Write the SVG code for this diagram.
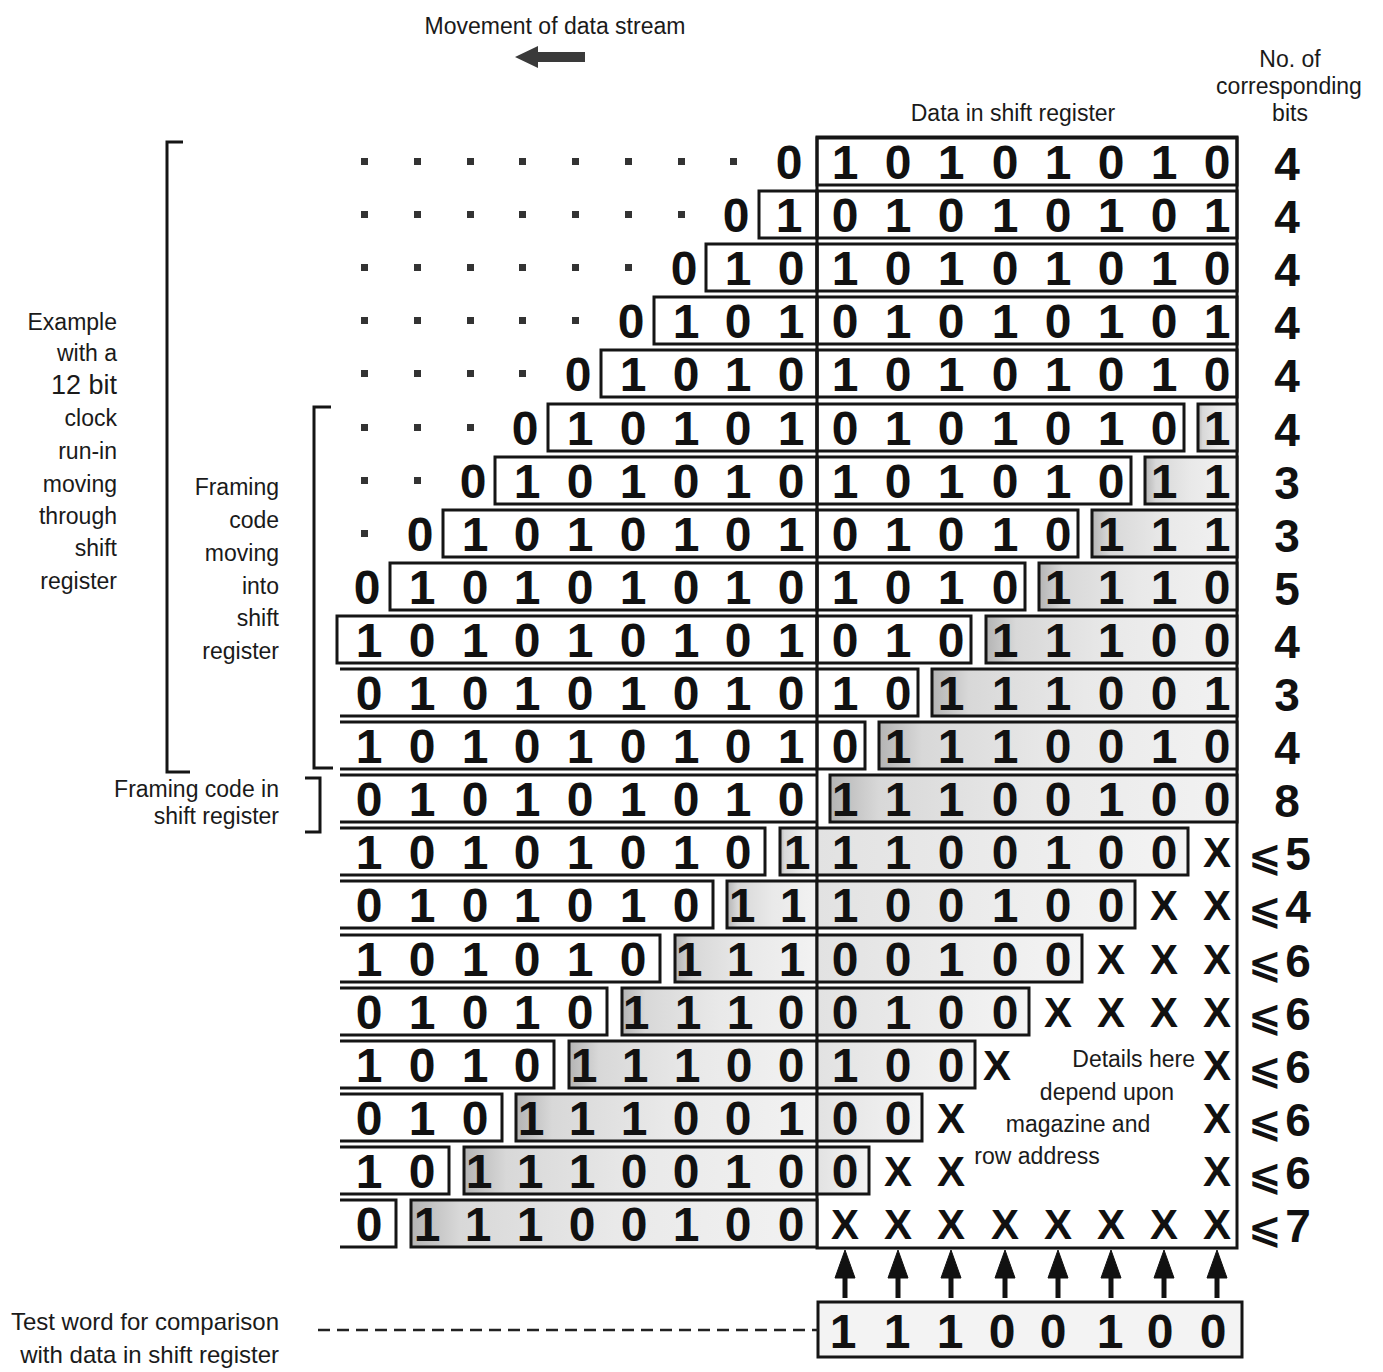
<svg xmlns="http://www.w3.org/2000/svg" width="1383" height="1372" viewBox="0 0 1383 1372">
<defs>
<linearGradient id="sh" x1="0" y1="0" x2="1" y2="0">
<stop offset="0" stop-color="#b4b4b4"/><stop offset="0.12" stop-color="#d8d8d8"/><stop offset="0.5" stop-color="#e9e9e9"/><stop offset="1" stop-color="#f2f2f2"/>
</linearGradient>
<linearGradient id="sh2" x1="0" y1="0" x2="1" y2="0">
<stop offset="0" stop-color="#e2e2e2"/><stop offset="1" stop-color="#f4f4f4"/>
</linearGradient>
<style>
.d{font-family:"Liberation Sans",Arial,sans-serif;font-weight:bold;font-size:48px;text-anchor:middle;fill:#111}
.x{font-family:"Liberation Sans",Arial,sans-serif;font-weight:bold;font-size:42px;text-anchor:middle;fill:#111}
.n{font-family:"Liberation Sans",Arial,sans-serif;font-weight:bold;font-size:46px;text-anchor:middle;fill:#111}
.le{font-family:"Liberation Sans",Arial,sans-serif;font-size:23px;fill:#1a1a1a;text-anchor:end}
.lc{font-family:"Liberation Sans",Arial,sans-serif;font-size:23px;fill:#1a1a1a;text-anchor:middle}
.b{fill:none;stroke:#151515;stroke-width:3}
.s{fill:url(#sh);stroke:#151515;stroke-width:3}
.s2{fill:url(#sh2);stroke:#151515;stroke-width:3}
.dot{fill:#333}
.le2{font-family:"DejaVu Sans",sans-serif;font-weight:bold;font-size:40px}
</style>
</defs>
<rect width="1383" height="1372" fill="#fff"/>

<g id="header">
<text class="lc" x="555" y="34">Movement of data stream</text>
<polygon points="515,57 538,46 538,52 585,52 585,62 538,62 538,68" fill="#3a3a3a"/>
<text class="lc" x="1013" y="121">Data in shift register</text>
<text class="lc" x="1290" y="67">No. of</text>
<text class="lc" x="1289" y="94">corresponding</text>
<text class="lc" x="1290" y="121">bits</text>
</g>

<g id="labels">
<text class="le" x="117" y="330">Example</text>
<text class="le" x="117" y="361">with a</text>
<text class="le" x="117" y="394" style="font-size:27px">12 bit</text>
<text class="le" x="117" y="426">clock</text>
<text class="le" x="117" y="459">run-in</text>
<text class="le" x="117" y="492">moving</text>
<text class="le" x="117" y="524">through</text>
<text class="le" x="117" y="556">shift</text>
<text class="le" x="117" y="589">register</text>
<text class="le" x="279" y="495">Framing</text>
<text class="le" x="279" y="528">code</text>
<text class="le" x="279" y="561">moving</text>
<text class="le" x="279" y="594">into</text>
<text class="le" x="279" y="626">shift</text>
<text class="le" x="279" y="659">register</text>
<text class="le" x="279" y="797">Framing code in</text>
<text class="le" x="279" y="824">shift register</text>
<text class="le" x="279" y="1330" style="font-size:24px">Test word for comparison</text>
<text class="le" x="279" y="1363" style="font-size:24px">with data in shift register</text>
<path class="b" d="M183 142 H167 V772 H190"/>
<path class="b" d="M331 407 H314 V768 H333"/>
<path class="b" d="M305 778 H320 V832 H305"/>
</g>

<g id="register">
<rect class="b" x="817" y="137" width="420" height="1111"/>
<text class="lc" x="1195" y="1067" style="text-anchor:end">Details here</text>
<text class="lc" x="1107" y="1100">depend upon</text>
<text class="lc" x="1078" y="1132">magazine and</text>
<text class="lc" x="1037" y="1164">row address</text>
</g>

<g id="row1">
<rect class="dot" x="361" y="158" width="7" height="7"/><rect class="dot" x="414" y="158" width="7" height="7"/><rect class="dot" x="467" y="158" width="7" height="7"/><rect class="dot" x="519" y="158" width="7" height="7"/><rect class="dot" x="572" y="158" width="7" height="7"/><rect class="dot" x="625" y="158" width="7" height="7"/><rect class="dot" x="678" y="158" width="7" height="7"/><rect class="dot" x="730" y="158" width="7" height="7"/>
<text class="d" x="789" y="179">0</text>
<rect class="b" x="817" y="138" width="420" height="47"/>
<text class="d" x="845 898 951 1005 1058 1111 1164 1217" y="179">10101010</text>
<text class="n" x="1287" y="180">4</text>
</g>

<g id="row2">
<rect class="dot" x="361" y="211" width="7" height="7"/><rect class="dot" x="414" y="211" width="7" height="7"/><rect class="dot" x="467" y="211" width="7" height="7"/><rect class="dot" x="519" y="211" width="7" height="7"/><rect class="dot" x="572" y="211" width="7" height="7"/><rect class="dot" x="625" y="211" width="7" height="7"/><rect class="dot" x="678" y="211" width="7" height="7"/>
<text class="d" x="736" y="232">0</text>
<rect class="b" x="759" y="191" width="58" height="47"/>
<text class="d" x="789" y="232">1</text>
<rect class="b" x="817" y="191" width="420" height="47"/>
<text class="d" x="845 898 951 1005 1058 1111 1164 1217" y="232">01010101</text>
<text class="n" x="1287" y="233">4</text>
</g>

<g id="row3">
<rect class="dot" x="361" y="264" width="7" height="7"/><rect class="dot" x="414" y="264" width="7" height="7"/><rect class="dot" x="467" y="264" width="7" height="7"/><rect class="dot" x="519" y="264" width="7" height="7"/><rect class="dot" x="572" y="264" width="7" height="7"/><rect class="dot" x="625" y="264" width="7" height="7"/>
<text class="d" x="684" y="285">0</text>
<rect class="b" x="706" y="244" width="111" height="47"/>
<text class="d" x="738 791" y="285">10</text>
<rect class="b" x="817" y="244" width="420" height="47"/>
<text class="d" x="845 898 951 1005 1058 1111 1164 1217" y="285">10101010</text>
<text class="n" x="1287" y="286">4</text>
</g>

<g id="row4">
<rect class="dot" x="361" y="317" width="7" height="7"/><rect class="dot" x="414" y="317" width="7" height="7"/><rect class="dot" x="467" y="317" width="7" height="7"/><rect class="dot" x="519" y="317" width="7" height="7"/><rect class="dot" x="572" y="317" width="7" height="7"/>
<text class="d" x="631" y="338">0</text>
<rect class="b" x="654" y="297" width="163" height="47"/>
<text class="d" x="686 738 791" y="338">101</text>
<rect class="b" x="817" y="297" width="420" height="47"/>
<text class="d" x="845 898 951 1005 1058 1111 1164 1217" y="338">01010101</text>
<text class="n" x="1287" y="339">4</text>
</g>

<g id="row5">
<rect class="dot" x="361" y="370" width="7" height="7"/><rect class="dot" x="414" y="370" width="7" height="7"/><rect class="dot" x="467" y="370" width="7" height="7"/><rect class="dot" x="519" y="370" width="7" height="7"/>
<text class="d" x="578" y="391">0</text>
<rect class="b" x="601" y="350" width="216" height="47"/>
<text class="d" x="633 686 738 791" y="391">1010</text>
<rect class="b" x="817" y="350" width="420" height="47"/>
<text class="d" x="845 898 951 1005 1058 1111 1164 1217" y="391">10101010</text>
<text class="n" x="1287" y="392">4</text>
</g>

<g id="row6">
<rect class="dot" x="361" y="424" width="7" height="7"/><rect class="dot" x="414" y="424" width="7" height="7"/><rect class="dot" x="467" y="424" width="7" height="7"/>
<text class="d" x="525" y="445">0</text>
<rect class="b" x="548" y="404" width="269" height="47"/>
<text class="d" x="580 633 686 738 791" y="445">10101</text>
<rect class="b" x="817" y="404" width="367" height="47"/>
<text class="d" x="845 898 951 1005 1058 1111 1164" y="445">0101010</text>
<rect class="s" x="1198" y="404" width="39" height="47"/>
<text class="d" x="1217" y="445">1</text>
<text class="n" x="1287" y="446">4</text>
</g>

<g id="row7">
<rect class="dot" x="361" y="477" width="7" height="7"/><rect class="dot" x="414" y="477" width="7" height="7"/>
<text class="d" x="473" y="498">0</text>
<rect class="b" x="495" y="457" width="322" height="47"/>
<text class="d" x="527 580 633 686 738 791" y="498">101010</text>
<rect class="b" x="817" y="457" width="314" height="47"/>
<text class="d" x="845 898 951 1005 1058 1111" y="498">101010</text>
<rect class="s" x="1145" y="457" width="92" height="47"/>
<text class="d" x="1164 1217" y="498">11</text>
<text class="n" x="1287" y="499">3</text>
</g>

<g id="row8">
<rect class="dot" x="361" y="530" width="7" height="7"/>
<text class="d" x="420" y="551">0</text>
<rect class="b" x="443" y="510" width="374" height="47"/>
<text class="d" x="475 527 580 633 686 738 791" y="551">1010101</text>
<rect class="b" x="817" y="510" width="261" height="47"/>
<text class="d" x="845 898 951 1005 1058" y="551">01010</text>
<rect class="s" x="1092" y="510" width="145" height="47"/>
<text class="d" x="1111 1164 1217" y="551">111</text>
<text class="n" x="1287" y="552">3</text>
</g>

<g id="row9">
<text class="d" x="367" y="604">0</text>
<rect class="b" x="390" y="563" width="427" height="47"/>
<text class="d" x="422 475 527 580 633 686 738 791" y="604">10101010</text>
<rect class="b" x="817" y="563" width="208" height="47"/>
<text class="d" x="845 898 951 1005" y="604">1010</text>
<rect class="s" x="1039" y="563" width="198" height="47"/>
<text class="d" x="1058 1111 1164 1217" y="604">1110</text>
<text class="n" x="1287" y="605">5</text>
</g>

<g id="row10">
<rect class="b" x="337" y="616" width="480" height="47"/>
<text class="d" x="369 422 475 527 580 633 686 738 791" y="657">101010101</text>
<rect class="b" x="817" y="616" width="154" height="47"/>
<text class="d" x="845 898 951" y="657">010</text>
<rect class="s" x="986" y="616" width="251" height="47"/>
<text class="d" x="1005 1058 1111 1164 1217" y="657">11100</text>
<text class="n" x="1287" y="658">4</text>
</g>

<g id="row11">
<path class="b" d="M340 669 H817 M340 716 H817"/>
<text class="d" x="369 422 475 527 580 633 686 738 791" y="710">010101010</text>
<rect class="b" x="817" y="669" width="101" height="47"/>
<text class="d" x="845 898" y="710">10</text>
<rect class="s" x="932" y="669" width="305" height="47"/>
<text class="d" x="951 1005 1058 1111 1164 1217" y="710">111001</text>
<text class="n" x="1287" y="711">3</text>
</g>

<g id="row12">
<path class="b" d="M340 722 H817 M340 769 H817"/>
<text class="d" x="369 422 475 527 580 633 686 738 791" y="763">101010101</text>
<rect class="b" x="817" y="722" width="48" height="47"/>
<text class="d" x="845" y="763">0</text>
<rect class="s" x="879" y="722" width="358" height="47"/>
<text class="d" x="898 951 1005 1058 1111 1164 1217" y="763">1110010</text>
<text class="n" x="1287" y="764">4</text>
</g>

<g id="row13">
<path class="b" d="M340 775 H817 M340 822 H817"/>
<text class="d" x="369 422 475 527 580 633 686 738 791" y="816">010101010</text>
<rect class="s" x="830" y="775" width="407" height="47"/>
<text class="d" x="845 898 951 1005 1058 1111 1164 1217" y="816">11100100</text>
<text class="n" x="1287" y="817">8</text>
</g>

<g id="row14">
<path class="b" d="M340 828 H765 V875 H340"/>
<text class="d" x="369 422 475 527 580 633 686 738" y="869">10101010</text>
<rect class="s" x="780" y="828" width="37" height="47"/>
<text class="d" x="797" y="869">1</text>
<rect class="s2" x="817" y="828" width="371" height="47"/>
<text class="d" x="845 898 951 1005 1058 1111 1164" y="869">1100100</text>
<text class="x" x="1217" y="867">X</text>
<text class="n" y="870"><tspan class="le2" x="1265">⩽</tspan><tspan x="1298">5</tspan></text>
</g>

<g id="row15">
<path class="b" d="M340 881 H713 V928 H340"/>
<text class="d" x="369 422 475 527 580 633 686" y="922">0101010</text>
<rect class="s" x="727" y="881" width="90" height="47"/>
<text class="d" x="742 793" y="922">11</text>
<rect class="s2" x="817" y="881" width="318" height="47"/>
<text class="d" x="845 898 951 1005 1058 1111" y="922">100100</text>
<text class="x" x="1164" y="920">X</text>
<text class="x" x="1217" y="920">X</text>
<text class="n" y="923"><tspan class="le2" x="1265">⩽</tspan><tspan x="1298">4</tspan></text>
</g>

<g id="row16">
<path class="b" d="M340 935 H660 V982 H340"/>
<text class="d" x="369 422 475 527 580 633" y="976">101010</text>
<rect class="s" x="675" y="935" width="142" height="47"/>
<text class="d" x="689 740 792" y="976">111</text>
<rect class="s2" x="817" y="935" width="265" height="47"/>
<text class="d" x="845 898 951 1005 1058" y="976">00100</text>
<text class="x" x="1111" y="974">X</text>
<text class="x" x="1164" y="974">X</text>
<text class="x" x="1217" y="974">X</text>
<text class="n" y="977"><tspan class="le2" x="1265">⩽</tspan><tspan x="1298">6</tspan></text>
</g>

<g id="row17">
<path class="b" d="M340 988 H607 V1035 H340"/>
<text class="d" x="369 422 475 527 580" y="1029">01010</text>
<rect class="s" x="622" y="988" width="195" height="47"/>
<text class="d" x="636 688 740 791" y="1029">1110</text>
<rect class="s2" x="817" y="988" width="212" height="47"/>
<text class="d" x="845 898 951 1005" y="1029">0100</text>
<text class="x" x="1058" y="1027">X</text>
<text class="x" x="1111" y="1027">X</text>
<text class="x" x="1164" y="1027">X</text>
<text class="x" x="1217" y="1027">X</text>
<text class="n" y="1030"><tspan class="le2" x="1265">⩽</tspan><tspan x="1298">6</tspan></text>
</g>

<g id="row18">
<path class="b" d="M340 1041 H554 V1088 H340"/>
<text class="d" x="369 422 475 527" y="1082">1010</text>
<rect class="s" x="569" y="1041" width="248" height="47"/>
<text class="d" x="584 635 687 739 791" y="1082">11100</text>
<rect class="s2" x="817" y="1041" width="158" height="47"/>
<text class="d" x="845 898 951" y="1082">100</text>
<text class="x" x="997" y="1080">X</text>
<text class="x" x="1217" y="1080">X</text>
<text class="n" y="1083"><tspan class="le2" x="1265">⩽</tspan><tspan x="1298">6</tspan></text>
</g>

<g id="row19">
<path class="b" d="M340 1094 H502 V1141 H340"/>
<text class="d" x="369 422 475" y="1135">010</text>
<rect class="s" x="516" y="1094" width="301" height="47"/>
<text class="d" x="531 582 634 686 738 791" y="1135">111001</text>
<rect class="s2" x="817" y="1094" width="105" height="47"/>
<text class="d" x="845 898" y="1135">00</text>
<text class="x" x="951" y="1133">X</text>
<text class="x" x="1217" y="1133">X</text>
<text class="n" y="1136"><tspan class="le2" x="1265">⩽</tspan><tspan x="1298">6</tspan></text>
</g>

<g id="row20">
<path class="b" d="M340 1147 H449 V1194 H340"/>
<text class="d" x="369 422" y="1188">10</text>
<rect class="s" x="464" y="1147" width="353" height="47"/>
<text class="d" x="479 530 582 634 686 738 791" y="1188">1110010</text>
<rect class="s2" x="817" y="1147" width="52" height="47"/>
<text class="d" x="845" y="1188">0</text>
<text class="x" x="898" y="1186">X</text>
<text class="x" x="951" y="1186">X</text>
<text class="x" x="1217" y="1186">X</text>
<text class="n" y="1189"><tspan class="le2" x="1265">⩽</tspan><tspan x="1298">6</tspan></text>
</g>

<g id="row21">
<path class="b" d="M340 1200 H396 V1247 H340"/>
<text class="d" x="369" y="1241">0</text>
<rect class="s" x="411" y="1200" width="406" height="47"/>
<text class="d" x="427 478 530 582 634 686 738 791" y="1241">11100100</text>
<text class="x" x="845 898 951 1005 1058 1111 1164 1217" y="1239">XXXXXXXX</text>
<text class="n" y="1242"><tspan class="le2" x="1265">⩽</tspan><tspan x="1298">7</tspan></text>
</g>

<g id="testword">
<rect x="818" y="1302" width="424" height="55" fill="#f3f3f3" stroke="#151515" stroke-width="3"/>
<text class="d" x="843 897 950 1002 1053 1110 1160 1213" y="1348">11100100</text>
</g>

<g id="connectors">
<path d="M318 1330 H818" stroke="#222" stroke-width="2.5" stroke-dasharray="12 7" fill="none"/>
<g fill="#111" stroke="#111">
<path d="M845 1298 V1270" stroke-width="5"/><polygon points="845,1250 835,1278 855,1278" stroke-width="1"/>
<path d="M898 1298 V1270" stroke-width="5"/><polygon points="898,1250 888,1278 908,1278" stroke-width="1"/>
<path d="M951 1298 V1270" stroke-width="5"/><polygon points="951,1250 941,1278 961,1278" stroke-width="1"/>
<path d="M1005 1298 V1270" stroke-width="5"/><polygon points="1005,1250 995,1278 1015,1278" stroke-width="1"/>
<path d="M1058 1298 V1270" stroke-width="5"/><polygon points="1058,1250 1048,1278 1068,1278" stroke-width="1"/>
<path d="M1111 1298 V1270" stroke-width="5"/><polygon points="1111,1250 1101,1278 1121,1278" stroke-width="1"/>
<path d="M1164 1298 V1270" stroke-width="5"/><polygon points="1164,1250 1154,1278 1174,1278" stroke-width="1"/>
<path d="M1217 1298 V1270" stroke-width="5"/><polygon points="1217,1250 1207,1278 1227,1278" stroke-width="1"/>
</g>
</g>
</svg>
